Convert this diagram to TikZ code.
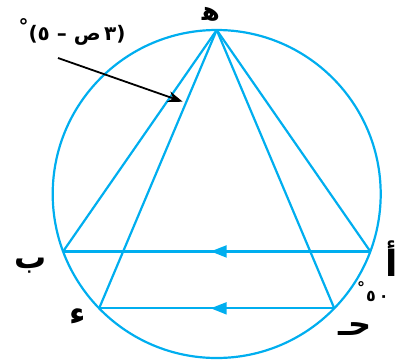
\documentclass[tikz,border=0pt]{standalone}
\usepackage{fontspec}
\newfontfamily\arabicfont[Script=Arabic]{DejaVu Sans}
\TeXXeTstate=1
\usetikzlibrary{arrows.meta,decorations.markings}
\definecolor{geo}{RGB}{0,174,239}
\tikzset{
  geoline/.style={draw=geo,line width=2.2pt,line join=round},
  parmark/.style={decoration={markings,mark=at position #1 with {\arrow[geo]{Triangle[length=16pt,width=12pt]}}},postaction={decorate}},
  ptlabel/.style={font=\arabicfont\bfseries\fontsize{32}{32}\selectfont,inner sep=0pt},
  pointer/.style={draw=black,line width=1.8pt,-{Stealth[length=15pt,width=11pt]}}
}
\begin{document}
\begin{tikzpicture}[x=1pt,y=-1pt]
\useasboundingbox (0,0) rectangle (398,362);
\coordinate (O) at (216.7,194);
\coordinate (H) at ([shift={(90:164pt)}]O);
\coordinate (A) at ([shift={(-20.5:164pt)}]O);
\coordinate (B) at ([shift={(200.5:164pt)}]O);
\coordinate (J) at ([shift={(-44.2:164pt)}]O);
\coordinate (D) at ([shift={(224.2:164pt)}]O);
\draw[geoline] (O) circle [radius=164pt];
\draw[geoline] (H) -- (A);
\draw[geoline] (H) -- (B);
\draw[geoline] (H) -- (J);
\draw[geoline] (H) -- (D);
\draw[geoline,parmark=0.5195] (A) -- (B);
\draw[geoline,parmark=0.5255] (J) -- (D);
\node[ptlabel,font=\arabicfont\bfseries\fontsize{26}{26}\selectfont] (lH) at (211,14) {\beginR ه^^^^200d\endR};
\node[ptlabel] (lB) at (31,266) {\beginR ب\endR};
\node[ptlabel] (lD) at (78,317) {\beginR ء\endR};
\node[ptlabel,font=\arabicfont\bfseries\fontsize{36}{36}\selectfont] (lA) at (392,259) {\beginR أ\endR};
\node[ptlabel] (lJ) at (355,329) {\beginR حـ\endR};
\node[font=\arabicfont\bfseries\fontsize{16}{16}\selectfont,inner sep=0pt] (l50) at (373,292) {\hbox{\raise8pt\hbox{°}}\kern1pt\hbox{٥}\kern3pt\hbox{٠}};
\node[font=\arabicfont\bfseries\fontsize{20}{20}\selectfont,inner sep=0pt] (expr) at (72,32) {\hbox{\raise7pt\hbox{°}}\hbox{)}\hbox{٥}\hbox{ – }\hbox{ص}\hbox{\,}\hbox{٣}\hbox{(}};
\coordinate (ps) at (58,58);
\coordinate (pe) at (182.7,101.7);
\draw[pointer] (ps) -- (pe);
\end{tikzpicture}
\end{document}
